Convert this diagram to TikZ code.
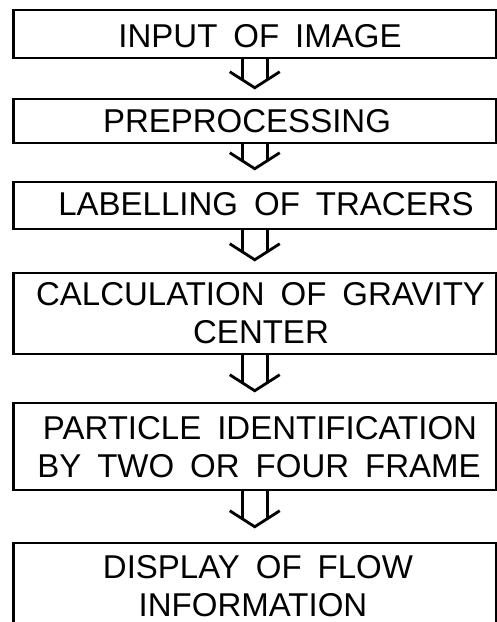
\documentclass[tikz,border=0pt]{standalone}
\usepackage{fontspec}
\setmainfont{Liberation Sans}
\usetikzlibrary{calc}
\newcommand\lblfont{\fontsize{33}{38}\selectfont}
\newcommand\wsp{\hspace{16pt}}
\tikzset{
  box/.style={draw, line width=2.5pt, minimum width=482.5pt, inner sep=0pt},
  lbl/.style={anchor=base, inner sep=0pt, font=\lblfont},
  flow/.style={line width=2.8pt, line join=miter, line cap=butt}
}
\begin{document}
\begin{tikzpicture}[x=1pt,y=-1pt]
\useasboundingbox (0,0) rectangle (497,622);
% boxes
\node[box, minimum height=48pt] (b1) at (254.75,34) {};
\node[box, minimum height=44pt] (b2) at (254.75,121) {};
\node[box, minimum height=47pt] (b3) at (254.75,205.5) {};
\node[box, minimum height=81pt] (b4) at (254.75,313.5) {};
\node[box, minimum height=87pt] (b5) at (254.75,446.5) {};
\node[box, minimum height=90pt] (b6) at (254.75,588) {};
% texts
\node[lbl] (t1) at (260,47) {INPUT\wsp OF\wsp IMAGE};
\node[lbl] (t2) at (247,132) {PREPROCESSING};
\node[lbl] (t3) at (266,215) {LABELLING\wsp OF\wsp TRACERS};
\node[lbl] (t4a) at (260.5,305) {CALCULATION\wsp OF\wsp GRAVITY};
\node[lbl] (t4b) at (261,343) {CENTER};
\node[lbl] (t5a) at (260,439) {PARTICLE\wsp IDENTIFICATION};
\node[lbl] (t5b) at (259,477) {BY\wsp TWO\wsp OR\wsp FOUR\wsp FRAME};
\node[lbl] (t6a) at (258,578) {DISPLAY\wsp OF\wsp FLOW};
\node[lbl] (t6b) at (253,616) {INFORMATION};
% arrow tips
\coordinate (a1) at ($(b2.north)+(0,-10)$);
\coordinate (a2) at ($(b3.north)+(0,-12)$);
\coordinate (a3) at ($(b4.north)+(0,-12)$);
\coordinate (a4) at ($(b5.north)+(0,-11)$);
\coordinate (a5) at ($(b6.north)+(0,-15)$);
% arrows
\foreach \f/\t in {b1/a1,b2/a2,b3/a3,b4/a4,b5/a5}{
  \draw[flow] ($(\t)+(-25,-16)$) -- (\t) -- ($(\t)+(25,-16)$);
  \draw[flow] ($(\f.south)+(-12.5,0)$) -- ($(\t)+(-12.5,-8)$);
  \draw[flow] ($(\f.south)+(12.5,0)$) -- ($(\t)+(12.5,-8)$);
}
\end{tikzpicture}
\end{document}
